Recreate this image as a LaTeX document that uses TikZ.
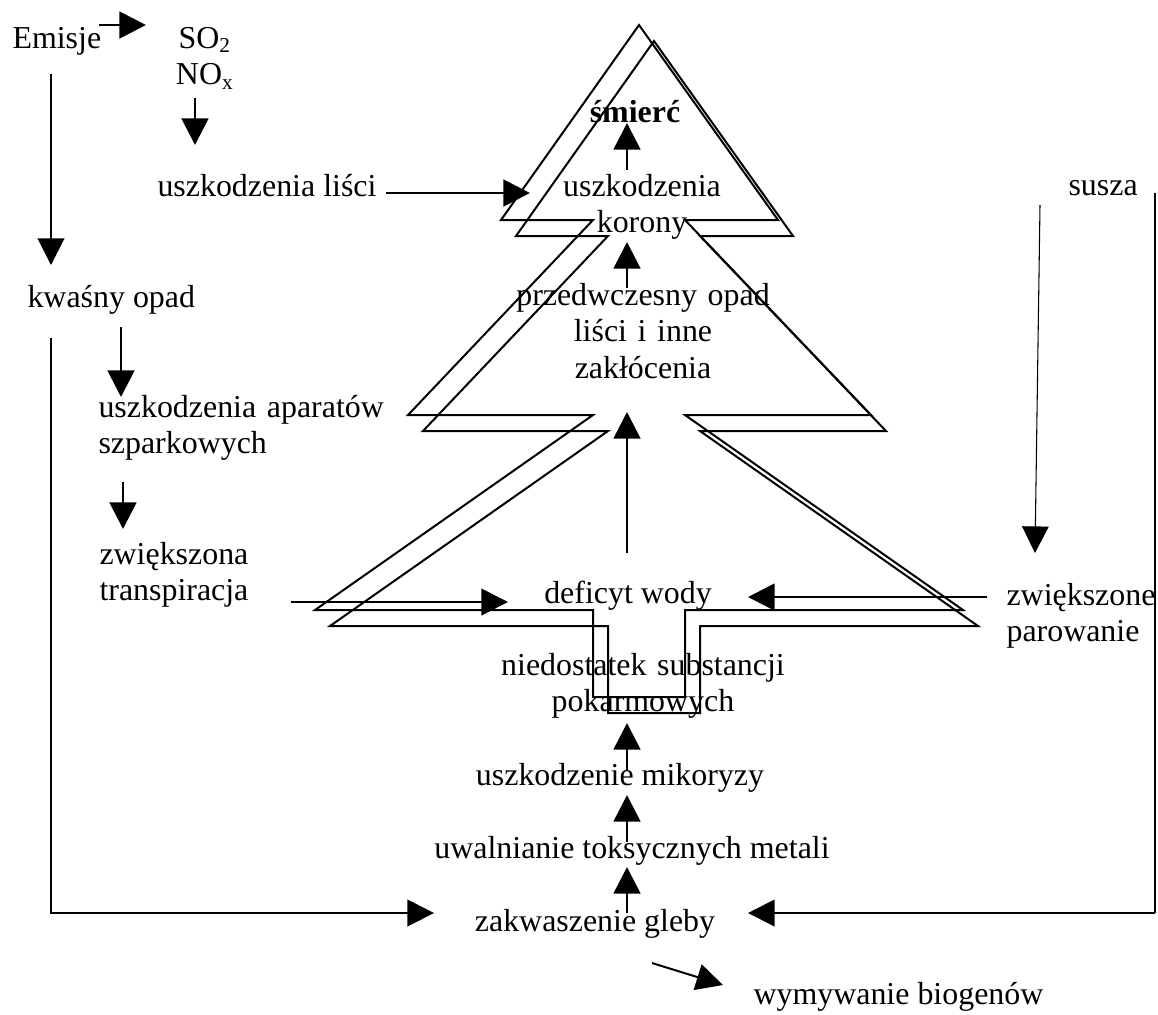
\documentclass[tikz,border=0pt]{standalone}
\usepackage{fontspec}
\setmainfont{Liberation Serif}
\usetikzlibrary{arrows.meta}

\tikzset{
  lbl/.style={inner sep=0pt,font=\fontsize{12}{13.9}\selectfont},
  tree/.style={line width=0.75pt,line join=miter},
  arr/.style={line width=1.1pt,-{Triangle[length=10pt,width=10pt]}},
  arrmid/.style={line width=0.75pt,-{Triangle[length=10pt,width=10pt]}},
  arrthin/.style={line width=0.4pt,-{Triangle[length=10pt,width=10pt]}},
}
% outline of the tree, in pixels of the sheet
\newcommand{\treeoutline}{(639,25) -- (778,220) -- (685,220) -- (871,415) -- (685,415)
  -- (963,610) -- (685,610) -- (685,697) -- (593,697) -- (593,610) -- (315,610)
  -- (593,415) -- (408,415) -- (593,220) -- (501,220) -- cycle}

\begin{document}
\begin{tikzpicture}[x=0.376pt,y=-0.376pt]
  \useasboundingbox (0,0) rectangle (1158,1014);

  % tree drawn twice, second one shifted
  \draw[tree] \treeoutline;
  \draw[tree,shift={(15,16)}] \treeoutline;

  % labels
  \node[lbl,anchor=base west] (emisje) at (12,48) {Emisje};
  \node[lbl,anchor=base,align=center,text width=40pt] (gazy) at (205,48) {SO\textsubscript{2}\\NO\textsubscript{x}};
  \node[lbl,anchor=base west] (liscie) at (157,196) {uszkodzenia liści};
  \node[lbl,anchor=base] (smierc) at (635,122) {\bfseries śmierć};
  \node[lbl,anchor=base,align=center,text width=80pt] (korona) at (642,196) {uszkodzenia\\korony};
  \node[lbl,anchor=base,align=center,text width=110pt] (opad) at (643,305) {przedwczesny opad\\liści i inne\\zakłócenia};
  \node[lbl,anchor=base west] (kwasny) at (27,307) {kwaśny opad};
  \node[lbl,anchor=base west,align=left,text width=120pt] (aparaty) at (98,417) {uszkodzenia aparatów\\szparkowych};
  \node[lbl,anchor=base west,align=left,text width=70pt] (transp) at (99,564) {zwiększona\\transpiracja};
  \node[lbl,anchor=base] (deficyt) at (628,603) {deficyt wody};
  \node[lbl,anchor=base,align=center,text width=120pt] (pokarm) at (643,675) {niedostatek substancji\\pokarmowych};
  \node[lbl,anchor=base] (mikoryza) at (620,785) {uszkodzenie mikoryzy};
  \node[lbl,anchor=base] (metale) at (632,858) {uwalnianie toksycznych metali};
  \node[lbl,anchor=base] (gleba) at (595,931) {zakwaszenie gleby};
  \node[lbl,anchor=base west] (biogeny) at (753,1004) {wymywanie biogenów};
  \node[lbl,anchor=base west] (susza) at (1068,195) {susza};
  \node[lbl,anchor=base west,align=left,text width=60pt] (parowanie) at (1006,605) {zwiększone\\parowanie};

  % arrow ends
  \coordinate (emisjeR) at (99,25);    \coordinate (gazyL) at (146,25);
  \coordinate (gazyB) at (195,98);     \coordinate (liscieT) at (195,145);
  \coordinate (emisjeB) at (51,74);    \coordinate (kwasnyT) at (51,265);
  \coordinate (kwasnyB) at (121,327);  \coordinate (aparatyT) at (121,397);
  \coordinate (aparatyB) at (123,482); \coordinate (transpT) at (123,529);
  \coordinate (liscieR) at (386,193);  \coordinate (koronaL) at (530,193);
  \coordinate (koronaT) at (627,170);  \coordinate (smiercB) at (627,123);
  \coordinate (koronaB) at (627,288);  \coordinate (opadT) at (627,242);
  \coordinate (deficytT) at (627,553); \coordinate (opadB) at (627,412);
  \coordinate (mikorT) at (627,770);   \coordinate (pokarmB) at (627,723);
  \coordinate (metaleT) at (627,842);  \coordinate (mikorB) at (627,795);
  \coordinate (glebaT) at (627,913);   \coordinate (metaleB) at (627,867);
  \coordinate (transpR) at (291,602);  \coordinate (deficytL) at (508,602);
  \coordinate (parowL) at (987,597);   \coordinate (deficytR) at (748,597);
  \coordinate (suszaB) at (1040,205);  \coordinate (parowT) at (1035,553);
  \coordinate (prawyT) at (1155,193);  \coordinate (prawyB) at (1155,913);
  \coordinate (glebaR) at (748,913);
  \coordinate (kwasnyL) at (51,338);   \coordinate (lewyB) at (51,913);
  \coordinate (glebaL) at (434,913);
  \coordinate (glebaD) at (652,963);   \coordinate (biogenyL) at (723,985);

  % arrows
  \draw[arr] (emisjeR) -- (gazyL);
  \draw[arr] (gazyB) -- (liscieT);
  \draw[arrmid] (emisjeB) -- (kwasnyT);
  \draw[arr] (kwasnyB) -- (aparatyT);
  \draw[arr] (aparatyB) -- (transpT);
  \draw[arr] (liscieR) -- (koronaL);
  \draw[arr] (koronaT) -- (smiercB);
  \draw[arr] (koronaB) -- (opadT);
  \draw[arr] (deficytT) -- (opadB);
  \draw[arr] (mikorT) -- (pokarmB);
  \draw[arr] (metaleT) -- (mikorB);
  \draw[arr] (glebaT) -- (metaleB);
  \draw[arrmid] (transpR) -- (deficytL);
  \draw[arr] (parowL) -- (deficytR);
  \draw[arrthin] (suszaB) -- (parowT);
  \draw[line width=0.4pt] (prawyT) -- (prawyB);
  \draw[arrmid] (prawyB) -- (glebaR);
  \draw[arrmid] (kwasnyL) -- (lewyB) -- (glebaL);
  \draw[arrmid] (glebaD) -- (biogenyL);
\end{tikzpicture}
\end{document}
